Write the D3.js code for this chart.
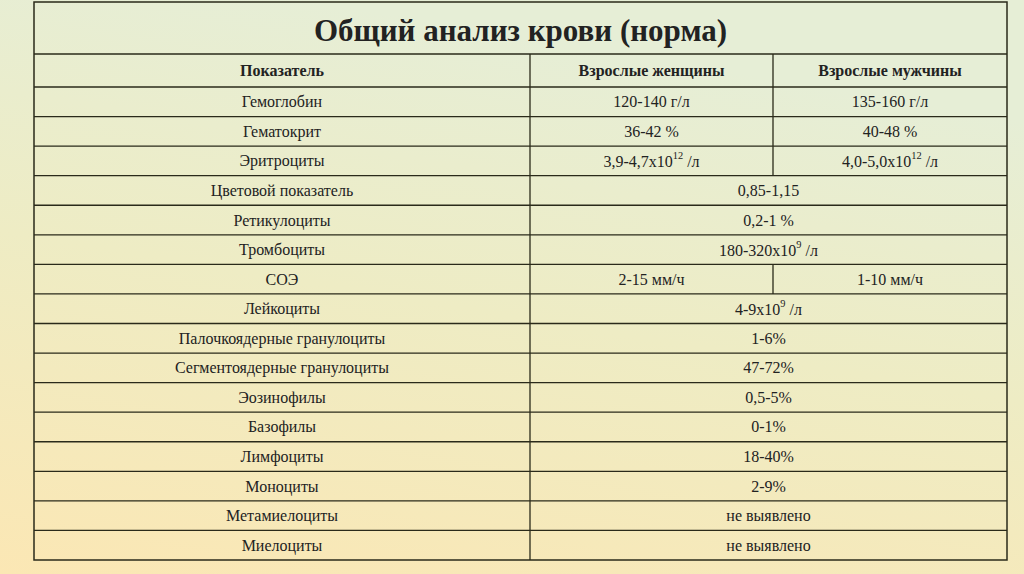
<!DOCTYPE html>
<html><head><meta charset="utf-8">
<script src="https://cdn.jsdelivr.net/npm/d3@7"></script>
<style>body{margin:0;overflow:hidden}</style></head><body>
<svg id="c" width="1024" height="574"></svg>
<script>
const title = "Общий анализ крови (норма)";
const headers = ["Показатель", "Взрослые женщины", "Взрослые мужчины"];
const names = ["Гемоглобин","Гематокрит","Эритроциты","Цветовой показатель","Ретикулоциты","Тромбоциты","СОЭ","Лейкоциты","Палочкоядерные гранулоциты","Сегментоядерные гранулоциты","Эозинофилы","Базофилы","Лимфоциты","Моноциты","Метамиелоциты","Миелоциты"];
const women = ["120-140 г/л","36-42 %","3,9-4,7x10^12 /л",null,null,null,"2-15 мм/ч",null,null,null,null,null,null,null,null,null];
const men = ["135-160 г/л","40-48 %","4,0-5,0x10^12 /л",null,null,null,"1-10 мм/ч",null,null,null,null,null,null,null,null,null];
const common = [null,null,null,"0,85-1,15","0,2-1 %","180-320x10^9 /л",null,"4-9x10^9 /л","1-6%","47-72%","0,5-5%","0-1%","18-40%","2-9%","не выявлено","не выявлено"];

(function(){
const svg = d3.select("#c");
const defs = svg.append("defs");
const g = defs.append("linearGradient").attr("id","bg").attr("x1","0.3").attr("y1","0").attr("x2","0").attr("y2","1");
g.append("stop").attr("offset","0").attr("stop-color","#e6eed6");
g.append("stop").attr("offset","0.45").attr("stop-color","#eeecc4");
g.append("stop").attr("offset","1").attr("stop-color","#fbe7b4");
svg.append("rect").attr("width",1024).attr("height",574).attr("fill","url(#bg)");

const L=34,R=1007,c1=530,c2=773,tY=2,titleB=54,headB=87,bottom=560;
const y = d3.scaleBand().domain(d3.range(names.length)).range([headB,bottom]);
const F = "'Liberation Serif','Times New Roman',serif";
const ink = "#222";

function txt(x,yy,s,size,bold){
  const t = svg.append("text").attr("x",x).attr("y",yy).attr("text-anchor","middle")
    .attr("dominant-baseline","central").attr("font-family",F).attr("font-size",size)
    .attr("font-weight",bold?"bold":"normal").attr("fill",ink);
  const m = s.split("^");
  if(m.length===1){t.text(s);return;}
  const rest = m[1].match(/^(\d+)(.*)$/);
  t.append("tspan").text(m[0]);
  t.append("tspan").attr("font-size",size*0.65).attr("dy",-6).text(rest[1]);
  t.append("tspan").attr("dy",6).text(rest[2]);
}
const line=(x1,y1,x2,y2)=>svg.append("line").attr("x1",x1).attr("y1",y1).attr("x2",x2).attr("y2",y2).attr("stroke","#2a2a1a").attr("stroke-width",1.3);

txt((L+R)/2,(tY+titleB)/2+2,title,31,true);
txt((L+c1)/2,(titleB+headB)/2,headers[0],16,true);
txt((c1+c2)/2,(titleB+headB)/2,headers[1],16,true);
txt((c2+R)/2,(titleB+headB)/2,headers[2],16,true);
line(L,titleB,R,titleB); line(L,headB,R,headB);
line(c1,titleB,c1,bottom); line(c2,titleB,c2,headB);
names.forEach((n,i)=>{
  const yc=y(i)+y.bandwidth()/2;
  txt((L+c1)/2,yc,n,16,false);
  if(common[i]!==null){ txt((c1+R)/2,yc,common[i],16,false); }
  else { txt((c1+c2)/2,yc,women[i],16,false); txt((c2+R)/2,yc,men[i],16,false);
         line(c2,y(i),c2,y(i)+y.bandwidth()); }
  if(i>0) line(L,y(i),R,y(i));
});
svg.append("rect").attr("x",L).attr("y",tY).attr("width",R-L).attr("height",bottom-tY)
  .attr("fill","none").attr("stroke","#2a2a1a").attr("stroke-width",1.5);
})();
</script></body></html>
